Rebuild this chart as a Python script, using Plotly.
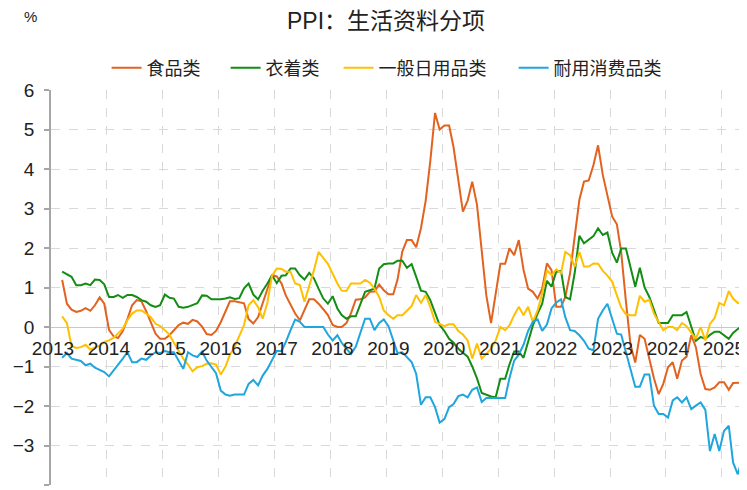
import pandas as pd
import plotly.graph_objects as go

# Monthly observations (mid-month), Mar 2013 – May 2025
dates = pd.date_range("2013-03-01", periods=147, freq="MS") + pd.Timedelta(days=14)

food = [1.19, 0.59, 0.44, 0.38, 0.41, 0.48, 0.41, 0.55, 0.75, 0.59,
        -0.07, -0.24, -0.28, -0.1, 0.2, 0.55, 0.68, 0.65, 0.4, 0.1,
        -0.17, -0.3, -0.3, -0.2, -0.08, 0.05, 0.11, 0.08, 0.18, 0.14,
        0.01, -0.18, -0.2, -0.1, 0.12, 0.38, 0.65, 0.65, 0.62, 0.6,
        0.2, 0.09, 0.25, 0.6, 1.0, 1.31, 1.28, 1.1, 0.8, 0.55,
        0.34, 0.17, 0.42, 0.7, 0.7, 0.59, 0.45, 0.3, 0.05, 0.0,
        0.0, 0.1, 0.35, 0.69, 0.7, 0.75, 0.89, 0.9, 1.08, 0.93,
        0.83, 0.83, 1.2, 1.91, 2.2, 2.2, 2.02, 2.5, 3.2, 4.2,
        5.42, 5.0, 5.1, 5.1, 4.55, 3.66, 2.92, 3.2, 3.68, 3.1,
        1.9, 0.8, 0.1, 0.85, 1.6, 1.6, 1.99, 1.82, 2.2, 1.45,
        0.97, 0.89, 0.72, 0.97, 1.61, 1.44, 0.51, 0.51, 0.76, 1.36,
        2.22, 3.22, 3.68, 3.71, 4.1, 4.6, 3.85, 3.3, 2.8, 2.6,
        1.9, 0.65, -0.45, -0.9, -0.2, -0.3, -0.85, -1.3, -1.7, -1.44,
        -1.02, -0.89, -1.31, -0.85, -0.75, -0.21, -0.51, -1.19, -1.57, -1.59,
        -1.53, -1.4, -1.4, -1.59, -1.42, -1.41, -1.41]

clothing = [1.4, 1.34, 1.27, 1.06, 1.06, 1.1, 1.06, 1.2, 1.19, 1.08,
            0.76, 0.76, 0.81, 0.74, 0.81, 0.81, 0.76, 0.68, 0.64, 0.55,
            0.51, 0.55, 0.82, 0.74, 0.72, 0.51, 0.49, 0.51, 0.55, 0.6,
            0.8, 0.79, 0.7, 0.7, 0.7, 0.72, 0.75, 0.71, 0.73, 0.98,
            1.1, 0.82, 0.7, 0.92, 1.1, 1.31, 1.11, 1.3, 1.31, 1.48,
            1.48, 1.31, 1.2, 1.37, 1.23, 0.97, 0.72, 0.59, 0.78, 0.47,
            0.3, 0.21, 0.27, 0.27, 0.59, 0.89, 0.93, 0.97, 1.48, 1.59,
            1.61, 1.61, 1.68, 1.68, 1.5, 1.59, 1.27, 0.92, 0.89, 0.68,
            0.36, 0.05, -0.1, -0.3, -0.4, -0.55, -0.65, -0.75, -1.0, -1.3,
            -1.67, -1.72, -1.76, -1.78, -1.31, -1.31, -0.95, -0.62, -0.62, -0.78,
            -0.38, 0.04, 0.34, 0.59, 1.17, 1.02, 1.4, 1.42, 0.76, 0.7,
            1.36, 2.31, 2.12, 2.22, 2.3, 2.5, 2.33, 2.39, 1.88, 1.63,
            1.99, 1.99, 1.49, 1.02, 1.5, 1.0, 0.76, 0.42, 0.1, 0.1,
            0.1, 0.3, 0.3, 0.3, 0.38, 0.0, -0.35, -0.25, -0.3, -0.2,
            -0.12, -0.12, -0.2, -0.3, -0.15, -0.05, 0.02]

daily_goods = [0.27, 0.1, -0.48, -0.53, -0.51, -0.45, -0.57, -0.53, -0.47, -0.38,
               -0.34, -0.27, -0.17, -0.04, 0.17, 0.34, 0.42, 0.42, 0.34, 0.25,
               0.08, 0.02, -0.08, -0.2, -0.4, -0.6, -0.8, -0.95, -1.12, -1.02,
               -0.99, -0.93, -0.92, -0.95, -1.2, -1.0, -0.7, -0.5, -0.25, 0.05,
               0.55, 0.68, 0.5, 0.21, 0.62, 1.3, 1.48, 1.47, 1.4, 1.4,
               1.1, 1.06, 0.64, 1.02, 1.44, 1.9, 1.75, 1.6, 1.35, 1.1,
               0.92, 0.91, 1.1, 1.1, 1.1, 1.19, 1.12, 0.97, 0.76, 0.42,
               0.3, 0.21, 0.3, 0.3, 0.41, 0.53, 0.81, 0.61, 0.81, 0.51,
               0.13, 0.08, 0.02, 0.07, 0.07, -0.1, -0.19, -0.34, -0.8, -0.42,
               -0.8, -0.68, -0.55, -0.34, 0.0, -0.08, 0.04, 0.3, 0.51, 0.3,
               0.51, 0.13, 0.42, 0.85, 1.44, 1.31, 1.46, 1.36, 1.9, 1.82,
               1.53, 1.9, 1.53, 1.53, 1.61, 1.6, 1.42, 1.3, 1.15, 0.8,
               0.5, 0.32, 0.3, 0.3, 0.79, 0.64, 0.69, 0.34, 0.13, -0.08,
               0.0, 0.0, -0.08, 0.1, 0.02, -0.13, -0.3, 0.0, -0.34, 0.08,
               0.23, 0.61, 0.55, 0.91, 0.72, 0.61, 0.61]

durables = [-0.78, -0.66, -0.8, -0.83, -0.86, -0.97, -0.93, -1.03, -1.08, -1.14,
            -1.25, -1.1, -0.97, -0.8, -0.64, -0.89, -0.89, -0.8, -0.83, -0.72,
            -0.64, -0.66, -0.61, -0.64, -0.64, -0.84, -1.06, -0.64, -0.72, -0.76,
            -0.62, -0.85, -1.02, -1.17, -1.61, -1.71, -1.74, -1.71, -1.71, -1.71,
            -1.44, -1.34, -1.48, -1.23, -1.06, -0.85, -0.61, -0.61, -0.38, -0.08,
            0.19, 0.13, 0.0, 0.0, 0.0, 0.0, 0.0, -0.19, -0.34, -0.21,
            -0.4, -0.55, -0.68, -0.5, -0.17, 0.21, 0.21, -0.08, 0.1, 0.19,
            0.02, -0.34, -0.66, -0.64, -0.76, -0.89, -1.19, -1.97, -1.78, -1.78,
            -2.03, -2.42, -2.33, -2.03, -1.95, -1.75, -1.71, -1.78, -1.59, -1.53,
            -1.9, -1.8, -1.8, -1.8, -1.8, -1.8, -1.3, -0.85, -0.7, -0.45,
            -0.1, 0.13, 0.19, -0.1, 0.06, 0.47, 0.62, 0.7, 0.25, -0.08,
            -0.1, -0.21, -0.35, -0.55, -0.59, 0.21, 0.42, 0.59, 0.21, -0.17,
            -0.19, -0.64, -1.03, -1.51, -1.51, -1.2, -1.2, -1.99, -2.2, -2.2,
            -2.29, -1.86, -1.78, -1.91, -1.78, -2.08, -1.99, -1.91, -2.1, -3.14,
            -2.71, -3.14, -2.63, -2.5, -3.43, -3.73, -3.3]

series_names = ["食品类", "衣着类", "一般日用品类", "耐用消费品类"]
series_values = [food, clothing, daily_goods, durables]
series_colors = ["#E2631F", "#138D14", "#FFC000", "#1FA6DE"]

year_ticks = pd.date_range("2013-01-01", "2025-01-01", freq="YS")
year_labels = [str(d.year) for d in year_ticks]

CJK = "Noto Sans CJK SC, Liberation Sans, Arial, sans-serif"
NUM = "Liberation Sans, Arial, sans-serif"
TITLE_FONT = "Liberation Sans, Noto Sans CJK SC, sans-serif"

legend_ids = ["legend", "legend2", "legend3", "legend4"]
legend_x = [0.0801, 0.2516, 0.4144, 0.6666]

fig = go.Figure()
for name, vals, col, lid in zip(series_names, series_values, series_colors, legend_ids):
    fig.add_trace(go.Scatter(x=dates, y=vals, mode="lines", name=name,
                             legend=lid, line=dict(color=col, width=2)))

legend_style = dict(orientation="h", xanchor="left", y=1.0557, yanchor="middle",
                    font=dict(family=CJK, size=18, color="#222222"),
                    bgcolor="rgba(0,0,0,0)", borderwidth=0)

fig.update_layout(
    width=739, height=482,
    margin=dict(l=43, r=2, t=82, b=5),
    plot_bgcolor="white", paper_bgcolor="white",
    title=dict(text="PPI：生活资料分项", x=0.5115, xanchor="center",
               y=0.973, yanchor="middle", yref="container",
               font=dict(family=TITLE_FONT, size=23, color="#222222")),
    showlegend=True,
    **{lid: dict(legend_style, x=lx) for lid, lx in zip(legend_ids, legend_x)}
)

fig.update_xaxes(
    type="date",
    range=["2013-01-01", "2025-06-01"],
    tickvals=list(year_ticks), ticktext=year_labels,
    anchor="free", position=0.4,
    showgrid=True, gridcolor="#d9d9d9", griddash="dash", gridwidth=1,
    showline=False, zeroline=False, ticks="",
    ticklabelstandoff=8, ticklabelshift=2,
    tickfont=dict(family=NUM, size=19, color="#222222"),
    automargin=False,
)

fig.update_yaxes(
    range=[-4, 6], dtick=1, tick0=0,
    showgrid=True, gridcolor="#d9d9d9", griddash="dash", gridwidth=1,
    zeroline=True, zerolinecolor="#c8c8c8", zerolinewidth=1.2,
    showline=True, linecolor="#a6a6a6", linewidth=1.5,
    ticks="outside", ticklen=5, tickcolor="#a6a6a6", tickwidth=1.5,
    ticklabelstandoff=6,
    tickfont=dict(family=NUM, size=19, color="#222222"),
    automargin=False,
)

fig.add_annotation(text="%", xref="paper", yref="paper", x=-0.03, y=1.187,
                   xanchor="center", yanchor="middle", showarrow=False,
                   font=dict(family=NUM, size=15, color="#222222"))

fig.write_html("out.html")
